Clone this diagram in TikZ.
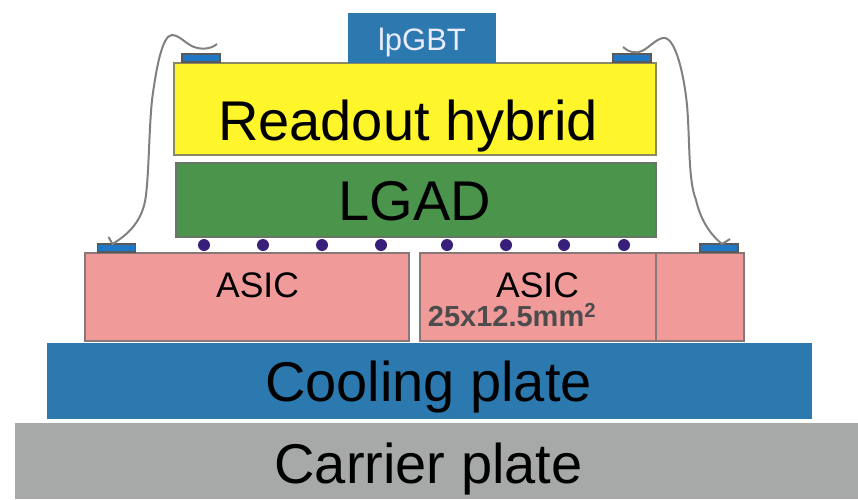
\documentclass[tikz,border=0pt]{standalone}
\usepackage{fontspec}
\setmainfont{Liberation Sans}
\usepackage{xcolor}
\definecolor{hybridyellow}{HTML}{FFF52B}
\definecolor{lgadgreen}{HTML}{4A944C}
\definecolor{coolblue}{HTML}{2B79AE}
\definecolor{asicpink}{HTML}{F19A9A}
\definecolor{carriergray}{HTML}{A7A9A9}
\definecolor{bumppurple}{HTML}{38207A}
\definecolor{padblue}{HTML}{1F78C4}
\tikzset{
  layer/.style={draw=#1!30!black!65,line width=1.8pt,inner sep=0pt,outer sep=0pt},
  plate/.style={inner sep=0pt,outer sep=0pt},
  pad/.style={fill=padblue,draw=black!65,line width=1.6pt,inner sep=0pt,outer sep=0pt,minimum width=38,minimum height=8},
  bump/.style={circle,fill=bumppurple,inner sep=0pt,minimum size=12},
  wire/.style={draw=black!50,line width=2pt,line join=round},
  bigtext/.style={font=\fontsize{56}{56}\selectfont,anchor=base,inner sep=0pt},
  asictext/.style={font=\fontsize{35.5}{36}\selectfont,inner sep=0pt}
}
\begin{document}
\begin{tikzpicture}[x=1pt,y=-1pt]
  \useasboundingbox (0,0) rectangle (858,499);

  % plates
  \node[plate,fill=carriergray,minimum width=843,minimum height=76] (carrier) at (436.5,461) {};
  \node[plate,fill=coolblue,minimum width=765,minimum height=76] (cooling) at (429.5,381) {};
  \node[bigtext] (carriertext) at (428.5,483) {Carrier plate};
  \node[bigtext] (coolingtext) at (428.5,401) {Cooling plate};

  % asics
  \node[layer=asicpink,fill=asicpink,minimum width=324,minimum height=88] (asicA) at (247,297) {};
  \node[layer=asicpink,fill=asicpink,minimum width=236,minimum height=88] (asicB) at (538,297) {};
  \node[layer=asicpink,fill=asicpink,minimum width=88,minimum height=88] (asicC) at (700,297) {};
  \node[asictext] (asicAtext) at (257.5,285) {ASIC};
  \node[asictext] (asicBtext) at (537.5,285) {ASIC};
  \node[inner sep=0pt,text=black!70,font=\bfseries\fontsize{29}{29}\selectfont] (asicsize) at (512,315) {25x12.5mm\textsuperscript{2}};

  % sensor and hybrid
  \node[layer=lgadgreen,fill=lgadgreen,minimum width=480,minimum height=74] (lgad) at (416,200) {};
  \node[layer=hybridyellow,fill=hybridyellow,minimum width=482,minimum height=92] (hybrid) at (415,109) {};
  \node[bigtext] (lgadtext) at (415,220) {LGAD};
  \node[bigtext] (hybridtext) at (408,140) {Readout hybrid};
  \node[plate,fill=coolblue,minimum width=148,minimum height=50] (lpgbt) at (422,38) {};
  \node[plate,anchor=base,text=white!92!blue,font=\fontsize{31}{31}\selectfont] (lpgbttext) at (422,50) {lpGBT};

  % bump bonds
  \foreach \bx in {204,263,322,381,447,506,564,624}
    \node[bump] (bump\bx) at (\bx,245) {};

  % wire bond pads
  \node[pad] (padTL) at (201,58) {};
  \node[pad] (padTR) at (632,58) {};
  \node[pad] (padBL) at (116.5,248) {};
  \node[pad] (padBR) at (719,248) {};

  % wire bonds
  \coordinate (wireTL) at (217,44);
  \coordinate (wireTR) at (623,47);
  \coordinate (wireBL) at ([xshift=-4]padBL.north);
  \coordinate (wireBR) at ([xshift=3]padBR.north);
  \draw[wire] (wireTL) .. controls (210,50) and (198,50) .. (190,45)
    .. controls (182,40) and (178,35) .. (172,35)
    .. controls (162,35) and (156,70) .. (152,100)
    .. controls (149,130) and (149,170) .. (146,195)
    .. controls (143,222) and (127,235) .. (wireBL) -- ++(-4,-7);
  \draw[wire] (wireTR) .. controls (628,52) and (636,54) .. (642,51)
    .. controls (650,47) and (658,37) .. (665,38)
    .. controls (676,40) and (684,75) .. (687,105)
    .. controls (690,140) and (688,180) .. (696,200)
    .. controls (701,222) and (712,236) .. (wireBR) -- ++(8,-5);
\end{tikzpicture}
\end{document}
